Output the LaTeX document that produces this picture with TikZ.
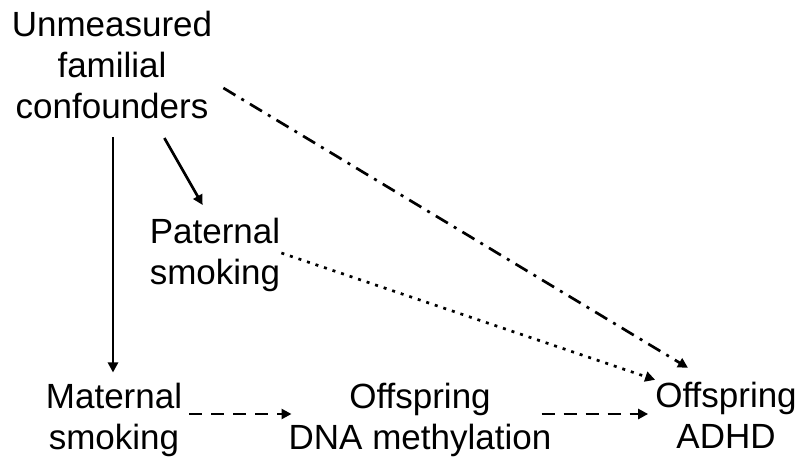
\documentclass[tikz,border=0pt]{standalone}
\usepackage{fontspec}
\setmainfont{Liberation Sans}
\usetikzlibrary{arrows.meta,calc}
\begin{document}
\begin{tikzpicture}[x=1pt,y=-1pt,
  lbl/.style={align=center,inner sep=0pt,font=\fontsize{35}{41}\selectfont},
  conn/.style={line width=2.7pt,-{Triangle[length=10pt,width=10pt]}},
  dashconn/.style={conn,dash pattern=on 13pt off 9pt},
  dotconn/.style={conn,dash pattern=on 3pt off 6pt},
  dashdotconn/.style={conn,dash pattern=on 14pt off 7pt on 3pt off 7pt}]
\useasboundingbox (0,0) rectangle (800,457);
\node[lbl] (conf) at (112,65) {Unmeasured\\familial\\confounders};
\node[lbl] (pat) at (215,254.5) {Paternal\\smoking};
\node[lbl] (mat) at (114,419.5) {Maternal\\smoking};
\node[lbl] (dna) at (420,419.5) {Offspring\\DNA methylation};
\node[lbl] (adhd) at (726,415.7) {Offspring\\ADHD};
\draw[conn] (conf.south -| 113,0) ++(0,18) -- ($(mat.north -| 113,0)+(0,-10)$);
\draw[conn] ($(conf.south east)+(-48,19)$) -- ($(pat.north west)+(53,-12.5)$);
\draw[dashdotconn] ($(conf.east)+(11,23)$) -- ($(adhd.north)+(-38,-14.5)$);
\draw[dotconn] ($(pat.east)+(1,-1.5)$) -- ($(adhd.north west)+(0,-2.5)$);
\draw[dashconn] ($(mat.east)+(7,-5.5)$) -- ($(dna.west)+(3,-5.5)$);
\draw[dashconn] ($(dna.east)+(-10,-5.5)$) -- ($(adhd.west)+(-7,-1.7)$);
\end{tikzpicture}
\end{document}
